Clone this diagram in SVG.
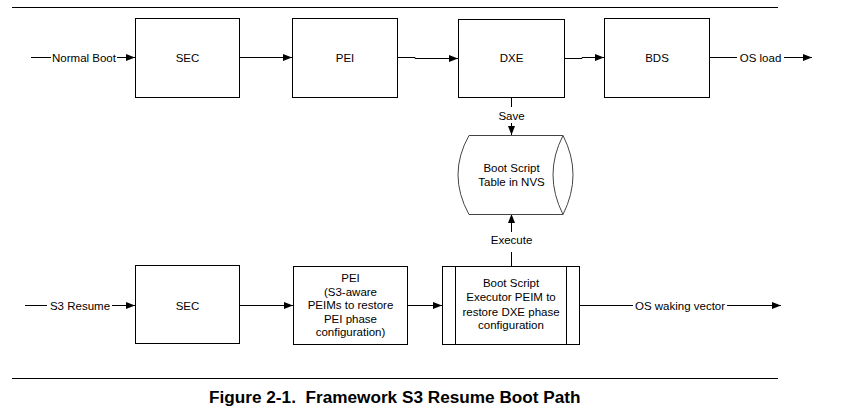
<svg xmlns="http://www.w3.org/2000/svg" width="849" height="410" viewBox="0 0 849 410">
<defs>
<style>
.t{font-family:"Liberation Sans",Arial,sans-serif;font-size:11.5px;fill:#000;text-anchor:middle}
.cap{font-family:"Liberation Sans",Arial,sans-serif;font-size:17.2px;font-weight:bold;fill:#000;white-space:pre}
.box{fill:#fff;stroke:#000;stroke-width:1}
.ln{fill:none;stroke:#000;stroke-width:1}
.cyl{fill:#fff;stroke:#444;stroke-width:1}
</style>
<marker id="ah" markerWidth="9" markerHeight="8" refX="9" refY="4" orient="auto" markerUnits="userSpaceOnUse">
<path d="M0,0.5 L9,4 L0,7.5 z" fill="#000"/>
</marker>
</defs>
<rect width="849" height="410" fill="#fff"/>
<g id="rules">
<line class="ln" x1="12" y1="7.5" x2="778" y2="7.5"/>
<line class="ln" x1="12" y1="378.5" x2="778" y2="378.5"/>
</g>
<g id="connectors">
<path class="ln" d="M31,57.5 H51"/>
<text class="t" x="84" y="61.5">Normal Boot</text>
<path class="ln" d="M117,57.5 H135" marker-end="url(#ah)"/>
<path class="ln" d="M239.5,57.5 H292" marker-end="url(#ah)"/>
<path class="ln" d="M397.5,57.5 H415 V58.5 H458" marker-end="url(#ah)"/>
<path class="ln" d="M564.5,58.5 H582 V57.5 H604" marker-end="url(#ah)"/>
<path class="ln" d="M709.5,57.5 H737"/>
<text class="t" x="760.5" y="61.5">OS load</text>
<path class="ln" d="M784,57.5 H812" marker-end="url(#ah)"/>
<path class="ln" d="M511.5,97.5 V107"/>
<text class="t" x="511.5" y="119.5">Save</text>
<path class="ln" d="M511.5,123 V135" marker-end="url(#ah)"/>
<path class="ln" d="M511.5,232 V214" marker-end="url(#ah)"/>
<text class="t" x="511.5" y="243.5">Execute</text>
<path class="ln" d="M511.5,252 V266"/>
<path class="ln" d="M25,305.5 H47"/>
<text class="t" x="80" y="309.5">S3 Resume</text>
<path class="ln" d="M112,305.5 H135" marker-end="url(#ah)"/>
<path class="ln" d="M239.5,305.5 H293" marker-end="url(#ah)"/>
<path class="ln" d="M407.5,305.5 H442" marker-end="url(#ah)"/>
<path class="ln" d="M579.5,305.5 H633"/>
<text class="t" x="680" y="309.5">OS waking vector</text>
<path class="ln" d="M727,305.5 H781" marker-end="url(#ah)"/>
</g>
<g id="sec1">
<rect class="box" x="135.5" y="18.5" width="104" height="79"/>
<text class="t" x="187.5" y="61.5">SEC</text>
</g>
<g id="pei1">
<rect class="box" x="292.5" y="18.5" width="105" height="79"/>
<text class="t" x="345" y="61.5">PEI</text>
</g>
<g id="dxe">
<rect class="box" x="458.5" y="19.5" width="106" height="78"/>
<text class="t" x="511.5" y="62">DXE</text>
</g>
<g id="bds">
<rect class="box" x="604.5" y="18.5" width="105" height="79"/>
<text class="t" x="657" y="61.5">BDS</text>
</g>
<g id="nvs">
<path class="cyl" d="M469,135.5 H563 Q583,174.5 563,214.5 H469 Q447,174.5 469,135.5 z"/>
<path class="cyl" d="M563,135.5 Q543,174.5 563,214.5"/>
<text class="t" x="511.5" y="172">Boot Script</text>
<text class="t" x="511.5" y="186">Table in NVS</text>
</g>
<g id="sec2">
<rect class="box" x="135.5" y="265.5" width="104" height="78"/>
<text class="t" x="187.5" y="309.5">SEC</text>
</g>
<g id="pei2">
<rect class="box" x="293.5" y="266.5" width="114" height="78"/>
<text class="t" x="350.5" y="282">PEI</text>
<text class="t" x="350.5" y="295.5">(S3-aware</text>
<text class="t" x="350.5" y="309">PEIMs to restore</text>
<text class="t" x="350.5" y="322.5">PEI phase</text>
<text class="t" x="350.5" y="336">configuration)</text>
</g>
<g id="executor">
<rect class="box" x="442.5" y="266.5" width="137" height="78"/>
<line class="ln" x1="455.5" y1="266.5" x2="455.5" y2="344.5"/>
<line class="ln" x1="566.5" y1="266.5" x2="566.5" y2="344.5"/>
<text class="t" x="511" y="287">Boot Script</text>
<text class="t" x="511" y="301">Executor PEIM to</text>
<text class="t" x="511" y="315.5">restore DXE phase</text>
<text class="t" x="511" y="329">configuration</text>
</g>
<text class="cap" x="209" y="403">Figure 2-1.  Framework S3 Resume Boot Path</text>
</svg>
